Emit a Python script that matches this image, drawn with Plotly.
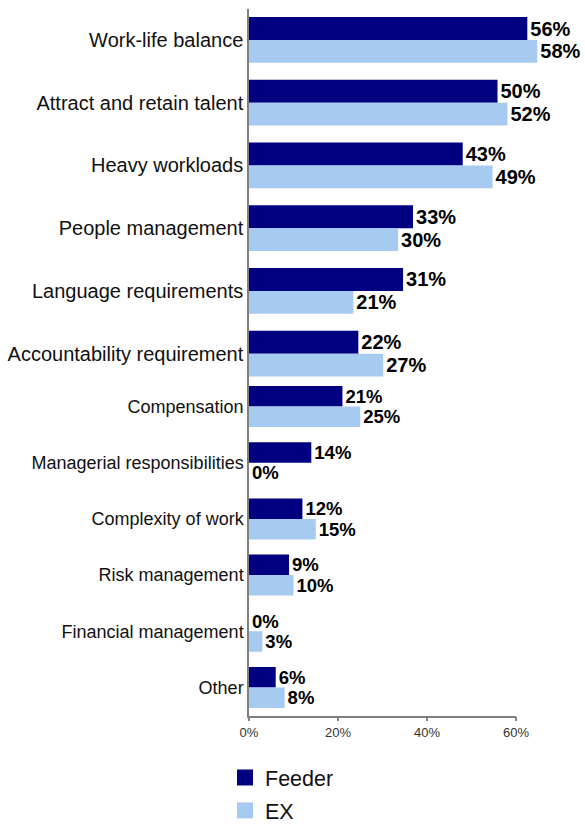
import plotly.graph_objects as go

# Survey results: share of respondents citing each factor (percent)
categories_top = [
    "Work-life balance",
    "Attract and retain talent",
    "Heavy workloads",
    "People management",
    "Language requirements",
    "Accountability requirement",
]
feeder_top = [56, 50, 43, 33, 31, 22]
ex_top = [58, 52, 49, 30, 21, 27]

categories_bottom = [
    "Compensation",
    "Managerial responsibilities",
    "Complexity of work",
    "Risk management",
    "Financial management",
    "Other",
]
feeder_bottom = [21, 14, 12, 9, 0, 6]
ex_bottom = [25, 0, 15, 10, 3, 8]

x_ticks = [0, 20, 40, 60]
x_tick_labels = ["0%", "20%", "40%", "60%"]

NAVY = "#000080"
SKY = "#A6CAF0"
AXIS = "#808080"
SANS = "Liberation Sans, Arial, sans-serif"

W, H = 585, 825


def px_x(p):
    return p / W


def px_y(p):
    return 1 - p / H


fig = go.Figure()


def add_pair(cats, feeder, ex, xa, ya, size):
    for name, vals, color in (("Feeder", feeder, NAVY), ("EX", ex, SKY)):
        fig.add_trace(go.Bar(
            y=cats, x=vals, orientation="h", name=name,
            marker=dict(color=color, line=dict(width=0)),
            text=vals, texttemplate="%{text}%", textposition="outside",
            textfont=dict(family=SANS, size=size, color="#000000", weight="bold"),
            constraintext="none", cliponaxis=False,
            xaxis=xa, yaxis=ya, showlegend=False, hoverinfo="skip",
        ))


add_pair(categories_top, feeder_top, ex_top, "x2", "y2", 20)
add_pair(categories_bottom, feeder_bottom, ex_bottom, "x", "y", 18.5)

# legend entries with larger square swatches
for name, color in (("Feeder", NAVY), ("EX", SKY)):
    fig.add_trace(go.Scatter(
        x=[None], y=[None], mode="markers", name=name, legendgroup=name,
        marker=dict(symbol="square", size=16, color=color),
        xaxis="x", yaxis="y",
    ))

fig.update_layout(
    width=W, height=H,
    margin=dict(l=0, r=0, t=0, b=0, autoexpand=False),
    paper_bgcolor="white", plot_bgcolor="white",
    barmode="group", bargap=0.27, bargroupgap=0,
    showlegend=True,
    legend=dict(
        x=px_x(225), y=px_y(757), xanchor="left", yanchor="top",
        font=dict(family=SANS, size=21.5, color="#111111"),
        tracegroupgap=2, bgcolor="rgba(0,0,0,0)",
    ),
    xaxis=dict(
        domain=[px_x(249), px_x(516)], range=[0, 60], anchor="y",
        tickvals=x_ticks, ticktext=x_tick_labels,
        showline=True, linecolor=AXIS, linewidth=1.5,
        ticks="outside", ticklen=4, tickcolor=AXIS, tickwidth=1.5,
        tickfont=dict(family=SANS, size=13, color="#333333"),
        showgrid=False, zeroline=False, fixedrange=True, automargin=False,
    ),
    xaxis2=dict(
        domain=[px_x(249), 1], range=[0, (W - 249) / 4.97], anchor="y2",
        visible=False, fixedrange=True,
    ),
    yaxis=dict(
        domain=[px_y(715.6), px_y(378.4)], anchor="x",
        categoryorder="array", categoryarray=categories_bottom,
        autorange="reversed",
        showline=True, linecolor=AXIS, linewidth=1.5,
        ticks="", ticklabelstandoff=0,
        tickfont=dict(family=SANS, size=18, color="#111111"),
        showgrid=False, zeroline=False, fixedrange=True, automargin=False,
    ),
    yaxis2=dict(
        domain=[px_y(385), px_y(8.6)], anchor="x2",
        categoryorder="array", categoryarray=categories_top,
        autorange="reversed",
        showline=True, linecolor=AXIS, linewidth=1.5,
        ticks="", ticklabelstandoff=0,
        tickfont=dict(family=SANS, size=20, color="#111111"),
        showgrid=False, zeroline=False, fixedrange=True, automargin=False,
    ),
)

fig.write_html("out.html", config={"displayModeBar": False})
